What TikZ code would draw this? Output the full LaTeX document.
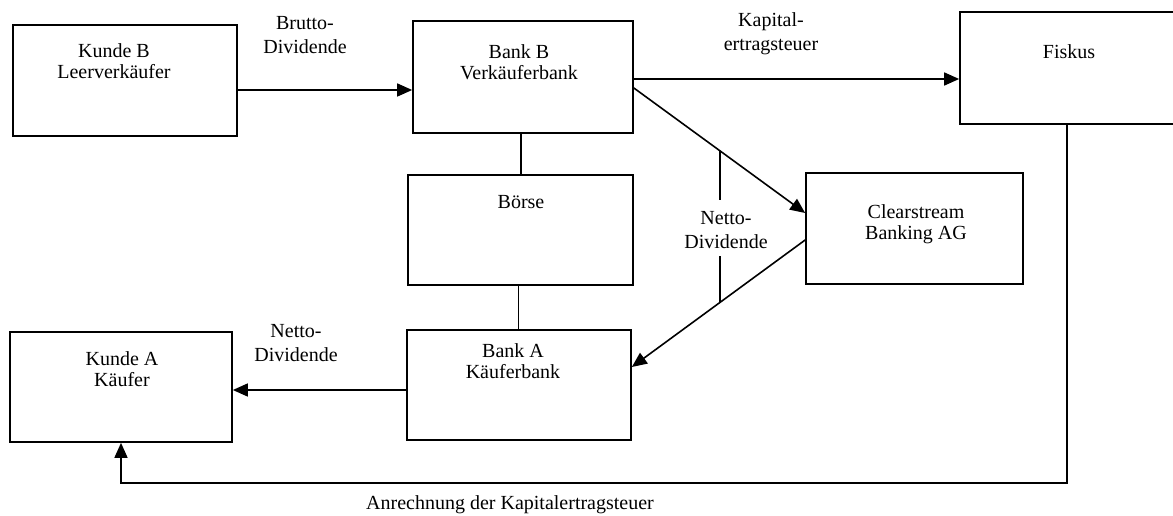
\documentclass[tikz,border=0pt]{standalone}
\usepackage{fontspec}
\setmainfont{Liberation Serif}
\usetikzlibrary{arrows.meta,calc}
\begin{document}
\begin{tikzpicture}[x=1pt,y=1pt,
  box/.style={draw, line width=1.7pt, rectangle, inner sep=0pt},
  txt/.style={font=\fontsize{20}{21}\selectfont, align=center, inner sep=0pt},
  lbl/.style={font=\fontsize{20}{24}\selectfont, align=center, inner sep=0pt},
  conn/.style={line width=1.6pt},
  arr/.style={conn, -{Triangle[length=15pt,width=13pt]}}]
\fill[white] (0,0) rectangle (1173,515);
\useasboundingbox (0,0) rectangle (1173,515);

% boxes
\node[box, minimum width=224pt, minimum height=111pt] (kb) at (125,434.5) {};
\node[box, minimum width=220pt, minimum height=112pt] (bb) at (523,438) {};
\node[box, minimum width=225pt, minimum height=112pt] (fk) at (1072.5,447) {};
\node[box, minimum width=225pt, minimum height=110pt] (bo) at (520.5,285) {};
\node[box, minimum width=217pt, minimum height=111pt] (cs) at (914.5,286.5) {};
\node[box, minimum width=222pt, minimum height=110pt] (ka) at (121,128) {};
\node[box, minimum width=224pt, minimum height=110pt] (ba) at (519,130) {};

% box texts
\node[txt] (kbt) at (114,454) {Kunde B\\Leerverkäufer};
\node[txt] (bbt) at (519,453) {Bank B\\Verkäuferbank};
\node[txt] (fkt) at (1069,463) {Fiskus};
\node[txt] (bot) at (521,313) {Börse};
\node[txt] (cst) at (916,290.5) {Clearstream\\Banking AG};
\node[txt] (kat) at (122,146) {Kunde A\\Käufer};
\node[txt] (bat) at (513,154) {Bank A\\Käuferbank};

% connector labels
\node[lbl] (brutto) at (305,479.5) {Brutto-\\Dividende};
\node[lbl] (kapital) at (771,481.5) {Kapital-\\ertragsteuer};
\node[lbl] (nettoL) at (296,171.5) {Netto-\\Dividende};
\node[lbl] (nettoM) at (726,284.5) {Netto-\\Dividende};
\node[lbl] (anr) at (510,10) {Anrechnung der Kapitalertragsteuer};

% connector end points
\coordinate (kbo) at ([yshift=-9.5pt]kb.east);
\coordinate (bbo) at ([yshift=-2pt]bb.east);
\coordinate (bbd) at ([yshift=-11pt]bb.east);
\coordinate (csi) at ([yshift=15.5pt]cs.west);
\coordinate (csd) at ([yshift=-11.5pt]cs.west);
\coordinate (bai) at ([yshift=18pt]ba.east);
\coordinate (bao) at ([yshift=-5pt]ba.west);
\coordinate (fko) at ([xshift=-5.5pt]fk.south);
\coordinate (low) at (0,32);
\coordinate (bbs) at ([xshift=-2pt]bb.south);
\coordinate (bos) at ([xshift=-2pt]bo.south);
\coordinate (g1) at ([yshift=12pt]nettoM.north);
\coordinate (g2) at ([yshift=-7pt]nettoM.south);

% connectors
\draw[arr] (kbo) -- (kbo -| bb.west);
\draw[arr] (bbo) -- (bbo -| fk.west);
\draw[arr] (bbd) -- coordinate[pos=0.503] (t1) (csi);
\draw[arr] (csd) -- coordinate[pos=0.491] (t2) (bai);
\draw[arr] (bao) -- (bao -| ka.east);
\draw[conn] (bbs) -- (bbs |- bo.north);
\draw[conn] (bos) -- (bos |- ba.north);
\draw[arr] (fko) |- (low -| ka.south) -- (ka.south);
\draw[conn] (t1) -- (t1 |- g1);
\draw[conn] (t2) -- (t2 |- g2);
\end{tikzpicture}
\end{document}
